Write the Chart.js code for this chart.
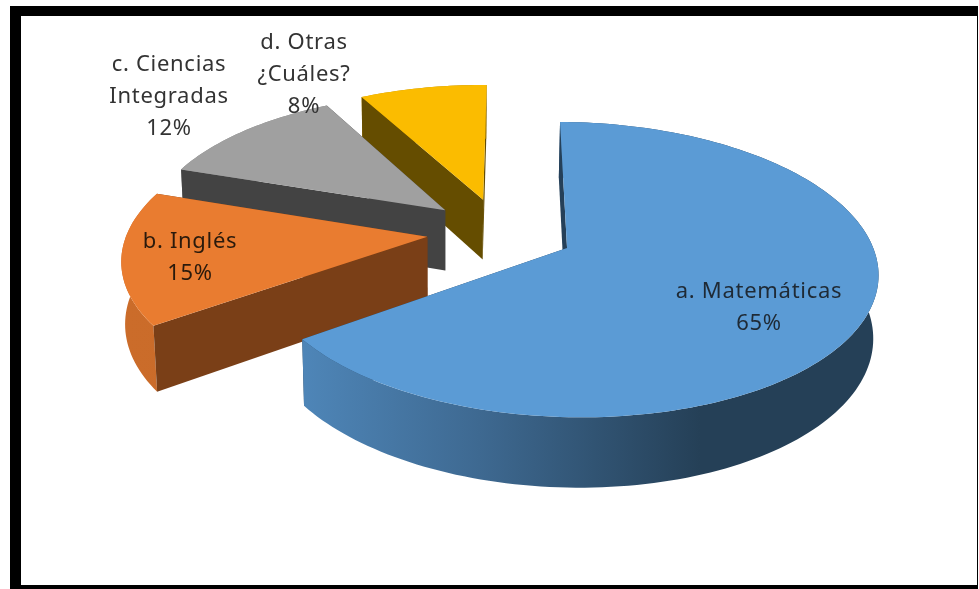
<!DOCTYPE html>
<html>
<head>
<meta charset="utf-8">
<title>Pie</title>
<script src="https://cdn.jsdelivr.net/npm/chart.js@4"></script>
<style>
    html, body { margin: 0; padding: 0; background: #fff; overflow: hidden; }
    #wrap { position: relative; width: 979px; height: 589px; }
    #frame {
        position: absolute; left: 10px; top: 6px;
        border-style: solid; border-color: #000; border-width: 10px 1px 4px 11px;
        box-sizing: content-box; height: 569px; width: 956px;
    }
    canvas { position: absolute; left: 0; top: 0; }
</style>
</head>
<body>
<div id="wrap">
    <div id="frame"></div>
    <canvas id="pieChart" width="979" height="589"></canvas>
</div>
<script>
const categories = ["a. Matemáticas", "b. Inglés", ["c. Ciencias", "Integradas"], ["d. Otras", "¿Cuáles?"]];
const values = [65, 15, 12, 8];
const topColors = ["#5B9BD5", "#E97C30", "#A0A0A0", "#FBBC00"];
const sideColors = ["#254059", "#7A3F17", "#434343", "#654D00"];
const labelAnchors = [[759, 292], [190, 242], [169, 65], [304, 43]];
const labelColors = ["#1F2A35", "#2A1A0C", "#333333", "#333333"];

// camera used to tilt the flat pie
const view = { x: 567, y: 248, sx: 306, sy: 144.4, tilt: 0.1458, roll: 0.007, depth: 63, shrink: 0.012, drift: -1.5, shear: 0.018 };
const pieShift = [-0.221, -0.105];
const explode = 0.245;

function project(u, v, z) {
    const pu = u + pieShift[0];
    const pv = v + pieShift[1];
    const w = 1 - view.tilt * pv - view.roll * pu + view.shrink * z;
    const dx = (view.sx * pu + view.drift * z) / w;
    const dy = (view.sy * pv + view.depth * z) / w;
    return [view.x + dx, view.y + dy + view.shear * dx];
}

function shade(hex, f) {
    const n = parseInt(hex.slice(1), 16);
    const r = Math.round((n >> 16 & 255) * f);
    const g = Math.round((n >> 8 & 255) * f);
    const b = Math.round((n & 255) * f);
    return `rgb(${r},${g},${b})`;
}

function fillPoly(ctx, points, color) {
    ctx.beginPath();
    points.forEach((p, i) => i ? ctx.lineTo(p[0], p[1]) : ctx.moveTo(p[0], p[1]));
    ctx.closePath();
    ctx.fillStyle = color;
    ctx.fill();
}

function drawSlice(ctx, arc, index) {
    const { startAngle, endAngle } = arc.getProps(["startAngle", "endAngle"]);
    const mid = (startAngle + endAngle) / 2;
    const ou = explode * Math.cos(mid);
    const ov = explode * Math.sin(mid);
    const apex = z => project(ou, ov, z);

    const rim = z => {
        const pts = [];
        const steps = Math.ceil((endAngle - startAngle) * 40);
        for (let i = 0; i <= steps; i++) {
            const a = startAngle + (endAngle - startAngle) * i / steps;
            pts.push(project(ou + Math.cos(a), ov + Math.sin(a), z));
        }
        return pts;
    };
    const top = rim(0);
    const bottom = rim(1);

    // rim wall gets darker towards the right
    const grad = ctx.createLinearGradient(120, 0, 700, 0);
    const base = topColors[index];
    grad.addColorStop(0, shade(base, 0.87));
    grad.addColorStop(0.32, shade(base, 0.86));
    grad.addColorStop(0.62, shade(base, 0.68));
    grad.addColorStop(1, shade(base, 0.41));

    fillPoly(ctx, [apex(0), top[top.length - 1], bottom[bottom.length - 1], apex(1)], sideColors[index]);
    fillPoly(ctx, top.concat(bottom.slice().reverse()), grad);
    fillPoly(ctx, [apex(0), top[0], bottom[0], apex(1)], sideColors[index]);
    fillPoly(ctx, [apex(0)].concat(top), base);
}

const tiltedPie = {
    id: "tiltedPie",
    beforeDatasetDraw(chart) {
        const ctx = chart.ctx;
        const arcs = chart.getDatasetMeta(0).data;
        ctx.save();
        for (let i = arcs.length - 1; i >= 0; i--) {
            drawSlice(ctx, arcs[i], i);
        }
        ctx.restore();
        return false;
    },
    afterDatasetsDraw(chart) {
        const ctx = chart.ctx;
        ctx.save();
        ctx.font = '22px "Noto Sans"';
        ctx.letterSpacing = "0.7px";
        ctx.textAlign = "center";
        ctx.textBaseline = "middle";
        categories.forEach((cat, i) => {
            const lines = [].concat(cat, values[i] + "%");
            ctx.fillStyle = labelColors[i];
            lines.forEach((line, j) => {
                ctx.fillText(line, labelAnchors[i][0], labelAnchors[i][1] + j * 32);
            });
        });
        ctx.restore();
    }
};

new Chart(document.getElementById("pieChart"), {
    type: "pie",
    data: {
        labels: categories,
        datasets: [{
            data: values,
            backgroundColor: topColors,
            borderWidth: 0
        }]
    },
    options: {
        responsive: false,
        animation: false,
        rotation: -1.5,
        plugins: {
            legend: { display: false },
            tooltip: { enabled: false }
        }
    },
    plugins: [tiltedPie]
});
</script>
</body>
</html>
